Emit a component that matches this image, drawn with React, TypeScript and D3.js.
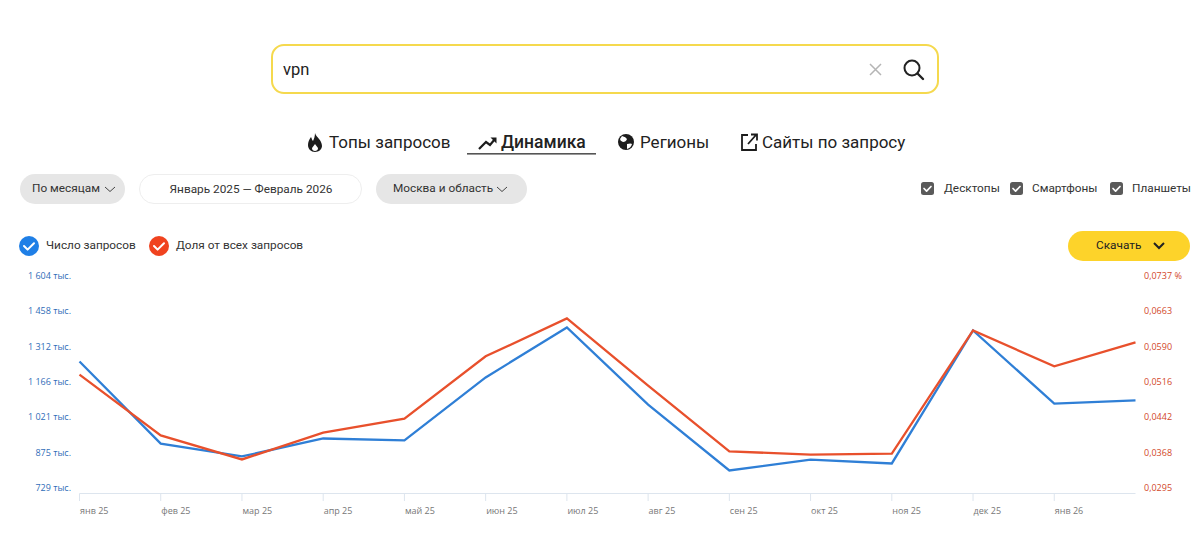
import React from "react";
import * as d3 from "d3";

const months = ["янв 25","фев 25","мар 25","апр 25","май 25","июн 25","июл 25","авг 25","сен 25","окт 25","ноя 25","дек 25","янв 26","фев 26"];
const queryCounts = [1274,935,882,956,948,1208,1414,1096,824,869,853,1402,1100,1113];
const queryShares = [0.0543,0.0416,0.0366,0.0422,0.0451,0.0581,0.0660,0.0520,0.0383,0.0376,0.0378,0.0635,0.0560,0.0610];
const leftTicks = [729,875,1021,1166,1312,1458,1604];
const leftLabels = ["729 тыс.","875 тыс.","1 021 тыс.","1 166 тыс.","1 312 тыс.","1 458 тыс.","1 604 тыс."];
const rightTicks = [0.0295,0.0368,0.0442,0.0516,0.0590,0.0663,0.0737];
const rightLabels = ["0,0295","0,0368","0,0442","0,0516","0,0590","0,0663","0,0737 %"];
const deviceOptions = ["Десктопы","Смартфоны","Планшеты"];
const tabs = ["Топы запросов","Динамика","Регионы","Сайты по запросу"];

const BLUE = "#2f7fd6";
const RED = "#e8502c";
const FONT = "Roboto, 'Open Sans', sans-serif";
const TICK_FONT = "'Open Sans', sans-serif";
const UI_SIZE = 11.8;

const x = d3.scalePoint<string>().domain(months).range([79.5, 1135.5]);
const yL = d3.scaleLinear().domain([729, 1604]).range([493.5, 281.5]);
const yR = d3.scaleLinear().domain([0.0295, 0.0737]).range([493.5, 281.5]);

const lineL = d3.line<number>().x((_, i) => x(months[i])!).y(d => yL(d));
const lineR = d3.line<number>().x((_, i) => x(months[i])!).y(d => yR(d));

function Check({ cx, cy, color }: { cx: number; cy: number; color: string }) {
  return (
    <g>
      <circle cx={cx} cy={cy} r={10} fill={color} />
      <path d={`M${cx - 5} ${cy} l3.6 3.6 l6.4 -6.4`} fill="none" stroke="#fff" strokeWidth={2} strokeLinecap="round" strokeLinejoin="round" />
    </g>
  );
}

function Box({ bx, by }: { bx: number; by: number }) {
  return (
    <g>
      <rect x={bx} y={by} width={13} height={13} rx={2.5} fill="#5a5a5a" />
      <path d={`M${bx + 3} ${by + 6.5} l2.6 2.6 l4.4 -4.6`} fill="none" stroke="#fff" strokeWidth={1.7} strokeLinecap="round" strokeLinejoin="round" />
    </g>
  );
}

export default function App() {
  return (
    <svg width={1200} height={540} viewBox="0 0 1200 540" style={{ position: "absolute", left: 0, top: 0, background: "#fff", display: "block" }} fontFamily={FONT}>
      {/* search */}
      <rect x={272} y={45} width={666} height={48} rx={12} fill="#fff" stroke="#f5d94e" strokeWidth={2} />
      <text x={283} y={75} fontSize={16.5} fill="#222">vpn</text>
      <path d="M870 64 l11 11 M881 64 l-11 11" stroke="#b5b5b5" strokeWidth={1.5} fill="none" />
      <circle cx={912} cy={68} r={7.5} fill="none" stroke="#222" strokeWidth={2} />
      <path d="M917.5 73.5 L923 79" stroke="#222" strokeWidth={2.4} strokeLinecap="round" />

      {/* tabs */}
      <path d="M315 133 C316 137 322 140 322 146 C322 149 319 152 315 152 C311 152 308 149 308 145 C308 142 309 140 311 137 C312 139 312 140 313 141 C314 139 315 136 315 133 Z M315 144 C314 146 312 147 312 148.5 C312 150 313.5 151 315 151 C316.5 151 318 150 318 148.5 C318 147 316 146 315 144 Z" fill="#1c1c1c" fillRule="evenodd" />
      <text x={329} y={148} fontSize={17} fill="#222">{tabs[0]}</text>
      <path d="M479 149 L486 142 L490 145 L495 139" fill="none" stroke="#1c1c1c" strokeWidth={2.2} />
      <path d="M490.5 137.5 L496.5 137.5 L496.5 143.5 Z" fill="#1c1c1c" />
      <text x={501} y={148} fontSize={17.5} fontWeight={500} fill="#222">{tabs[1]}</text>
      <rect x={467} y={153} width={129} height={1.6} fill="#555" />
      <circle cx={626} cy={142} r={8} fill="#1c1c1c" />
      <path d="M622 136 q4 1 5 3 q-1 3 -4 3 q-3 -1 -3 -3 Z M627 144 q4 -1 5 0 q-1 4 -5 5 Z" fill="#fff" />
      <text x={640} y={148} fontSize={17} fill="#222">{tabs[2]}</text>
      <path d="M748 135 H742 V150 H756 V144" fill="none" stroke="#1c1c1c" strokeWidth={1.8} />
      <path d="M748 144 L756 135 M751 134.5 H757 V140.5" fill="none" stroke="#1c1c1c" strokeWidth={1.8} />
      <text x={762} y={148} fontSize={17} fill="#222">{tabs[3]}</text>

      {/* filters */}
      <rect x={20} y={174} width={105} height={30} rx={15} fill="#e6e6e6" />
      <text x={32} y={192} fontSize={UI_SIZE} fill="#333">По месяцам</text>
      <path d="M105 187 l5 4.5 l5 -4.5" fill="none" stroke="#444" strokeWidth={1} />
      <rect x={139.5} y={174.5} width={222} height={29} rx={14.5} fill="#fff" stroke="#eeeeee" />
      <text x={251} y={193} fontSize={UI_SIZE} fill="#333" textAnchor="middle">Январь 2025 — Февраль 2026</text>
      <rect x={376} y={174} width={151} height={30} rx={15} fill="#e6e6e6" />
      <text x={393} y={192} fontSize={UI_SIZE} fill="#333">Москва и область</text>
      <path d="M497 187 l5 4.5 l5 -4.5" fill="none" stroke="#444" strokeWidth={1} />

      {/* device checkboxes */}
      <Box bx={921} by={182} />
      <text x={944} y={192} fontSize={UI_SIZE} fill="#333">{deviceOptions[0]}</text>
      <Box bx={1010} by={182} />
      <text x={1032} y={192} fontSize={UI_SIZE} fill="#333">{deviceOptions[1]}</text>
      <Box bx={1110} by={182} />
      <text x={1132} y={192} fontSize={UI_SIZE} fill="#333">{deviceOptions[2]}</text>

      {/* legend */}
      <Check cx={29} cy={246} color="#1f7fe6" />
      <text x={46} y={249} fontSize={UI_SIZE} fill="#333">Число запросов</text>
      <Check cx={159} cy={246} color="#f0431f" />
      <text x={176} y={249} fontSize={UI_SIZE} fill="#333">Доля от всех запросов</text>

      {/* download */}
      <rect x={1068} y={231} width={122} height={30} rx={15} fill="#fdd32a" />
      <text x={1096} y={249} fontSize={UI_SIZE} fill="#222">Скачать</text>
      <path d="M1154 243 l5 5 l5 -5" fill="none" stroke="#222" strokeWidth={2} />

      {/* axes */}
      {leftTicks.map((t, i) => (
        <text key={t} x={71} y={yL(t) - 2.5} fontSize={9} fill="#2f6db8" textAnchor="end" fontFamily={TICK_FONT}>{leftLabels[i]}</text>
      ))}
      {rightTicks.map((t, i) => (
        <text key={t} x={1144} y={yR(t) - 2.5} fontSize={9} fill="#d2482a" fontFamily={TICK_FONT}>{rightLabels[i]}</text>
      ))}
      <line x1={79.5} x2={1135.5} y1={493.5} y2={493.5} stroke="#dde5ee" strokeWidth={1} />
      {months.slice(0, -1).map(m => (
        <g key={m}>
          <line x1={x(m)} x2={x(m)} y1={493.5} y2={501} stroke="#dde5ee" />
          <text x={x(m)! + 0.5} y={514} fontSize={9} fill="#777" fontFamily={TICK_FONT}>{m}</text>
        </g>
      ))}

      {/* series */}
      <path d={lineL(queryCounts)!} fill="none" stroke={BLUE} strokeWidth={2.3} />
      <path d={lineR(queryShares)!} fill="none" stroke={RED} strokeWidth={2.3} />
    </svg>
  );
}
